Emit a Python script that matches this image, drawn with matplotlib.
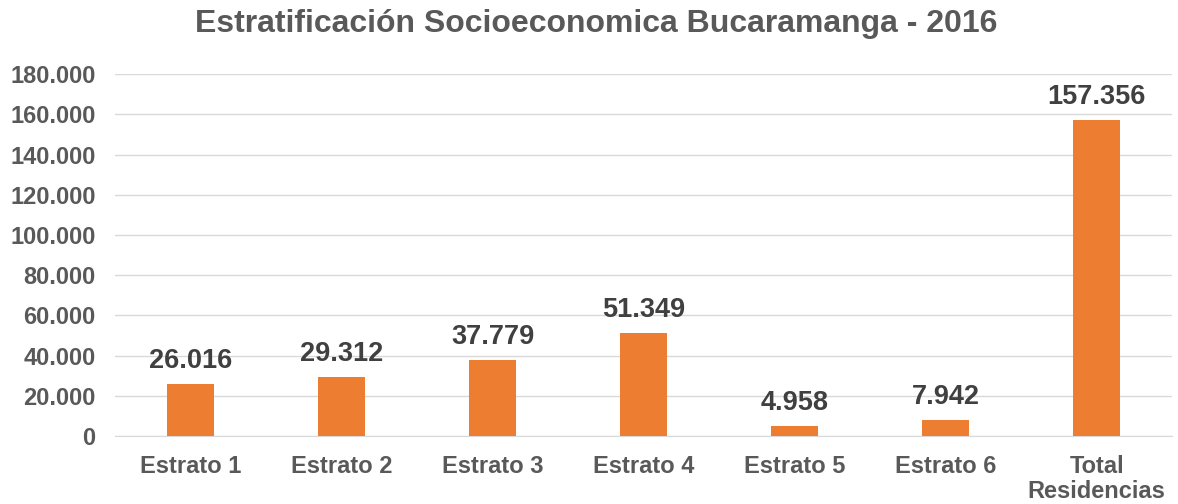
import matplotlib.pyplot as plt
from matplotlib.ticker import FuncFormatter

plt.rcParams['font.family'] = ['Liberation Sans', 'DejaVu Sans']

categorias = ["Estrato 1", "Estrato 2", "Estrato 3", "Estrato 4", "Estrato 5", "Estrato 6", "Total\nResidencias"]
residencias = [26016, 29312, 37779, 51349, 4958, 7942, 157356]
y_ticks = [0, 20000, 40000, 60000, 80000, 100000, 120000, 140000, 160000, 180000]


def miles(v, pos=None):
    return f"{int(v):,}".replace(",", ".")


fig = plt.figure(figsize=(11.78, 5.04), dpi=100)
ax = fig.add_axes([0.0976, 0.135, 0.8974, 0.718])

x = range(len(categorias))
ax.bar(x, residencias, width=0.31, color='#ED7D31', zorder=3)

for i, v in enumerate(residencias):
    ax.text(i, v + 4800, miles(v), ha='center', va='bottom', fontsize=19.5,
            fontweight='bold', color='#404040')

ax.set_xlim(-0.5, len(categorias) - 0.5)
ax.set_ylim(0, 180000)
ax.set_yticks(y_ticks)
ax.yaxis.set_major_formatter(FuncFormatter(miles))
ax.set_xticks(list(x))
ax.set_xticklabels(categorias, linespacing=1.1)
ax.grid(axis='y', color='#D9D9D9', linewidth=1, zorder=0)

for s in ['top', 'right', 'left']:
    ax.spines[s].set_visible(False)
ax.spines['bottom'].set_color('#D9D9D9')
ax.tick_params(axis='both', length=0, labelsize=17, labelcolor='#595959')
ax.tick_params(axis='x', pad=14)
ax.tick_params(axis='y', pad=14)
for lbl in ax.get_xticklabels() + ax.get_yticklabels():
    lbl.set_fontweight('bold')

fig.text(0.506, 0.952, "Estratificación Socioeconomica Bucaramanga - 2016",
         ha='center', va='center', fontsize=23, fontweight='bold', color='#595959')

fig.savefig("out.png", dpi=100)
